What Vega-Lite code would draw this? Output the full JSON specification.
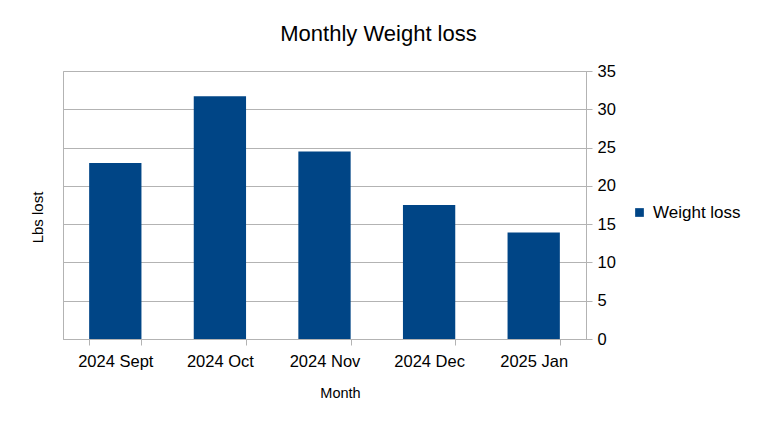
{
  "$schema": "https://vega.github.io/schema/vega-lite/v6.json",
  "width": 523,
  "height": 268,
  "autosize": "none",
  "padding": {"left": 63, "top": 71, "right": 171, "bottom": 87},
  "background": "white",
  "config": {
    "font": "Liberation Sans",
    "view": {"stroke": "#b3b3b3", "strokeWidth": 1}
  },
  "title": {
    "text": "Monthly Weight loss",
    "fontSize": 22,
    "fontWeight": "normal",
    "color": "#000000",
    "anchor": "middle",
    "frame": "group",
    "baseline": "alphabetic",
    "dx": 54,
    "offset": 0
  },
  "data": {
    "values": [
      {"month": "2024 Sept", "loss": 23},
      {"month": "2024 Oct", "loss": 31.7},
      {"month": "2024 Nov", "loss": 24.5},
      {"month": "2024 Dec", "loss": 17.5},
      {"month": "2025 Jan", "loss": 13.9}
    ]
  },
  "encoding": {
    "x": {
      "field": "month",
      "type": "nominal",
      "sort": null,
      "title": "Month",
      "scale": {"paddingInner": 0.5, "paddingOuter": 0.25},
      "axis": {
        "labelAngle": 0,
        "labelFontSize": 16.5,
        "labelColor": "#000000",
        "labelPadding": 8,
        "tickBand": "extent",
        "tickSize": 6,
        "tickColor": "#b3b3b3",
        "domainColor": "#b3b3b3",
        "grid": false,
        "titleFontSize": 14.5,
        "titleFontWeight": "normal",
        "titleColor": "#000000",
        "titleX": 277,
        "titleY": 58,
        "titleBaseline": "alphabetic",
        "titleAlign": "center"
      }
    }
  },
  "layer": [
    {
      "mark": {"type": "bar", "color": "#004586"},
      "encoding": {
        "y": {
          "field": "loss",
          "type": "quantitative",
          "scale": {"domain": [0, 35], "nice": false},
          "axis": {
            "orient": "right",
            "title": null,
            "values": [0, 5, 10, 15, 20, 25, 30, 35],
            "labelFontSize": 16.5,
            "labelColor": "#000000",
            "labelPadding": 5,
            "tickSize": 6,
            "tickColor": "#b3b3b3",
            "domainColor": "#b3b3b3",
            "gridColor": "#b3b3b3",
            "grid": true
          }
        },
        "color": {
          "datum": "Weight loss",
          "type": "nominal",
          "scale": {"range": ["#004586"]},
          "legend": {
            "title": null,
            "orient": "none",
            "legendX": 568,
            "legendY": 133,
            "symbolType": "square",
            "symbolSize": 76,
            "symbolStrokeWidth": 0,
            "labelFontSize": 17,
            "labelColor": "#000000",
            "labelOffset": 5
          }
        }
      }
    },
    {
      "mark": {"type": "bar", "opacity": 0},
      "encoding": {
        "y": {
          "field": "loss",
          "type": "quantitative",
          "scale": {"domain": [0, 35], "nice": false},
          "title": "Lbs lost",
          "axis": {
            "orient": "left",
            "labels": false,
            "ticks": false,
            "domain": false,
            "grid": false,
            "titleFontSize": 15,
            "titleFontWeight": "normal",
            "titleColor": "#000000",
            "titleAngle": -90,
            "titleX": -21,
            "titleY": 146,
            "titleAlign": "center",
            "titleBaseline": "alphabetic"
          }
        }
      }
    }
  ],
  "resolve": {"scale": {"y": "independent"}}
}
